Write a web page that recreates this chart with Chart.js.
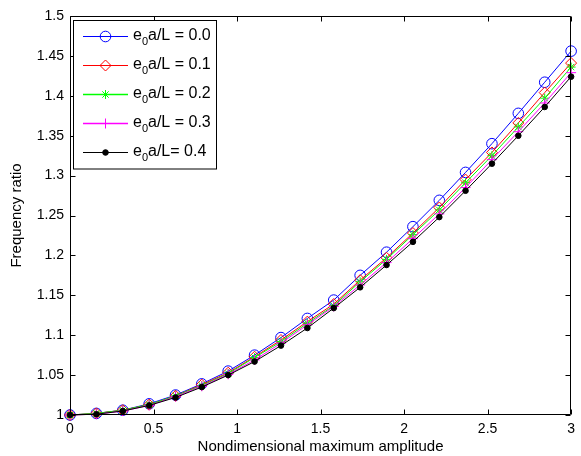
<!DOCTYPE html>
<html>
<head>
<meta charset="utf-8">
<script src="https://cdn.jsdelivr.net/npm/chart.js@4.4.1/dist/chart.umd.min.js"></script>
<style>
  html, body { margin: 0; padding: 0; background: #fff; }
  #wrap { width: 581px; height: 456px; }
</style>
</head>
<body>
<div id="wrap"><canvas id="freqChart" width="581" height="456"></canvas></div>
<script>
// ================= DATA =================
const amplitude = [0, 0.158, 0.316, 0.474, 0.632, 0.789, 0.947, 1.105, 1.263, 1.421,
                   1.579, 1.737, 1.895, 2.053, 2.211, 2.368, 2.526, 2.684, 2.842, 3];

const ratio00 = [1.000, 1.002, 1.006, 1.014, 1.025, 1.039, 1.055, 1.075, 1.097, 1.121,
                 1.144, 1.175, 1.204, 1.236, 1.269, 1.304, 1.340, 1.378, 1.417, 1.456];
const ratio01 = [1.000, 1.002, 1.006, 1.013, 1.024, 1.038, 1.053, 1.073, 1.094, 1.117,
                 1.139, 1.169, 1.197, 1.228, 1.260, 1.295, 1.329, 1.366, 1.404, 1.441];
const ratio02 = [1.000, 1.002, 1.006, 1.013, 1.024, 1.037, 1.052, 1.072, 1.092, 1.115,
                 1.137, 1.167, 1.195, 1.226, 1.257, 1.291, 1.325, 1.361, 1.397, 1.436];
const ratio03 = [1.000, 1.001, 1.005, 1.012, 1.023, 1.036, 1.051, 1.069, 1.090, 1.113,
                 1.136, 1.163, 1.191, 1.221, 1.252, 1.285, 1.320, 1.355, 1.391, 1.429];
const ratio04 = [1.000, 1.001, 1.005, 1.012, 1.022, 1.035, 1.050, 1.067, 1.087, 1.109,
                 1.134, 1.160, 1.188, 1.217, 1.248, 1.281, 1.315, 1.350, 1.386, 1.424];

// legend text: "_0" marks the subscript
const seriesLabels = ["e_0a/L = 0.0", "e_0a/L = 0.1", "e_0a/L = 0.2", "e_0a/L = 0.3", "e_0a/L= 0.4"];
const xTicks = [0, 0.5, 1, 1.5, 2, 2.5, 3];
const yTicks = [1, 1.05, 1.1, 1.15, 1.2, 1.25, 1.3, 1.35, 1.4, 1.45, 1.5];

// ================= STYLE =================
const FONT = "'Liberation Sans', Arial, Helvetica, sans-serif";
const seriesStyle = [
  { color: "#0000ff", marker: "circle",  r: 5.3, fill: false, lw: 1 },
  { color: "#ff0000", marker: "rectRot", r: 5.5, fill: false, lw: 1 },
  { color: "#00ff00", marker: "star",    r: 4.5, fill: false, lw: 1.5 },
  { color: "#ff00ff", marker: "cross",   r: 5,   fill: false, lw: 1.5 },
  { color: "#000000", marker: "circle",  r: 2.8, fill: true,  lw: 1 }
];
const seriesValues = [ratio00, ratio01, ratio02, ratio03, ratio04];

function toPoints(ys) {
  return ys.map((y, i) => ({ x: amplitude[i], y: y }));
}

const datasets = seriesValues.map((ys, i) => {
  const s = seriesStyle[i];
  return {
    label: seriesLabels[i].replace("_0", "\u2080"),
    data: toPoints(ys),
    borderColor: s.color,
    borderWidth: 1,
    backgroundColor: s.fill ? s.color : "rgba(0,0,0,0)",
    pointStyle: s.marker,
    pointRadius: s.r,
    pointHoverRadius: s.r,
    pointBorderWidth: 1,
    pointBorderColor: s.color,
    pointBackgroundColor: s.fill ? s.color : "rgba(0,0,0,0)",
    tension: 0,
    clip: false,
    order: 4 - i   // later series on top, as in the original
  };
});

// ================= MARKER HELPER (legend) =================
function drawMarker(ctx, s, x, y) {
  const r = s.r;
  ctx.beginPath();
  if (s.marker === "circle") {
    ctx.arc(x, y, r, 0, Math.PI * 2);
  } else if (s.marker === "rectRot") {
    ctx.moveTo(x, y - r); ctx.lineTo(x + r, y); ctx.lineTo(x, y + r); ctx.lineTo(x - r, y); ctx.closePath();
  } else if (s.marker === "cross") {
    ctx.moveTo(x - r, y); ctx.lineTo(x + r, y); ctx.moveTo(x, y - r); ctx.lineTo(x, y + r);
  } else if (s.marker === "star") {
    const d = r * Math.SQRT1_2;
    ctx.moveTo(x - r, y); ctx.lineTo(x + r, y); ctx.moveTo(x, y - r); ctx.lineTo(x, y + r);
    ctx.moveTo(x - d, y - d); ctx.lineTo(x + d, y + d); ctx.moveTo(x - d, y + d); ctx.lineTo(x + d, y - d);
  }
  if (s.fill) { ctx.fillStyle = s.color; ctx.fill(); }
  ctx.strokeStyle = s.color;
  ctx.lineWidth = 1;
  ctx.stroke();
}

// ================= BOX, INWARD TICKS, LEGEND =================
const matlabFrame = {
  id: "matlabFrame",
  afterDraw(chart) {
    const ctx = chart.ctx;
    const a = chart.chartArea;
    const xs = chart.scales.x, ys = chart.scales.y;
    const L = Math.round(a.left) + 0.5, R = Math.round(a.right) - 0.5;
    const T = Math.round(a.top) + 0.5, B = Math.round(a.bottom) - 0.5;
    const tl = 5;
    ctx.save();
    ctx.strokeStyle = "#000";
    ctx.lineWidth = 1;
    ctx.beginPath();
    ctx.rect(L, T, R - L, B - T);
    xTicks.forEach(v => {
      const px = Math.round(xs.getPixelForValue(v)) + 0.5;
      ctx.moveTo(px, B); ctx.lineTo(px, B - tl);
      ctx.moveTo(px, T); ctx.lineTo(px, T + tl);
    });
    yTicks.forEach(v => {
      const py = Math.round(ys.getPixelForValue(v)) + 0.5;
      ctx.moveTo(L, py); ctx.lineTo(L + tl, py);
      ctx.moveTo(R, py); ctx.lineTo(R - tl, py);
    });
    ctx.stroke();

    // legend box
    const bx = 73.5, by = 20.5, bw = 143, bh = 148.5;
    ctx.fillStyle = "#fff";
    ctx.fillRect(bx, by, bw, bh);
    ctx.strokeStyle = "#000";
    ctx.strokeRect(bx, by, bw, bh);

    seriesLabels.forEach((lab, i) => {
      const s = seriesStyle[i];
      const y = 36.5 + i * 29;
      ctx.beginPath();
      ctx.strokeStyle = s.color;
      ctx.lineWidth = s.lw;
      ctx.moveTo(83, y); ctx.lineTo(128, y);
      ctx.stroke();
      drawMarker(ctx, s, 105.5, y);

      const parts = lab.split("_0");
      ctx.fillStyle = "#000";
      ctx.textAlign = "left";
      ctx.textBaseline = "alphabetic";
      let x = 133;
      const base = y + 3.5;
      ctx.font = "16px " + FONT;
      ctx.fillText(parts[0], x, base);
      x += ctx.measureText(parts[0]).width;
      ctx.font = "11px " + FONT;
      ctx.fillText("0", x, base + 4.5);
      x += ctx.measureText("0").width;
      ctx.font = "16px " + FONT;
      ctx.fillText(parts[1], x, base);
    });
    ctx.restore();
  }
};

// ================= CHART =================
const ctx = document.getElementById("freqChart").getContext("2d");

const freqChart = new Chart(ctx, {
  type: "line",
  data: { datasets: datasets },
  plugins: [matlabFrame],
  options: {
    responsive: false,
    animation: false,
    events: [],
    layout: { padding: { top: 16, right: 6, left: 0, bottom: 0 } },
    plugins: {
      legend: { display: false },
      tooltip: { enabled: false }
    },
    scales: {
      x: {
        type: "linear",
        min: 0,
        max: 3,
        afterFit: (scale) => { scale.height = 41; },
        afterBuildTicks: (scale) => { scale.ticks = xTicks.map(v => ({ value: v })); },
        grid: { display: false, drawTicks: false },
        border: { display: false },
        ticks: {
          padding: 6,
          color: "#000",
          font: { family: FONT, size: 14 },
          maxRotation: 0,
          callback: (v) => String(Math.round(v * 100) / 100)
        },
        title: {
          display: true,
          text: "Nondimensional maximum amplitude",
          color: "#000",
          font: { family: FONT, size: 15 },
          padding: { top: 0, bottom: 0 }
        }
      },
      y: {
        type: "linear",
        min: 1,
        max: 1.5,
        afterFit: (scale) => { scale.width = 70; },
        afterBuildTicks: (scale) => { scale.ticks = yTicks.map(v => ({ value: v })); },
        grid: { display: false, drawTicks: false },
        border: { display: false },
        ticks: {
          padding: 6,
          color: "#000",
          font: { family: FONT, size: 14 },
          callback: (v) => String(Math.round(v * 100) / 100)
        },
        title: {
          display: true,
          text: "Frequency ratio",
          color: "#000",
          font: { family: FONT, size: 15 },
          padding: { top: 8, bottom: 0 }
        }
      }
    }
  }
});
</script>
</body>
</html>
